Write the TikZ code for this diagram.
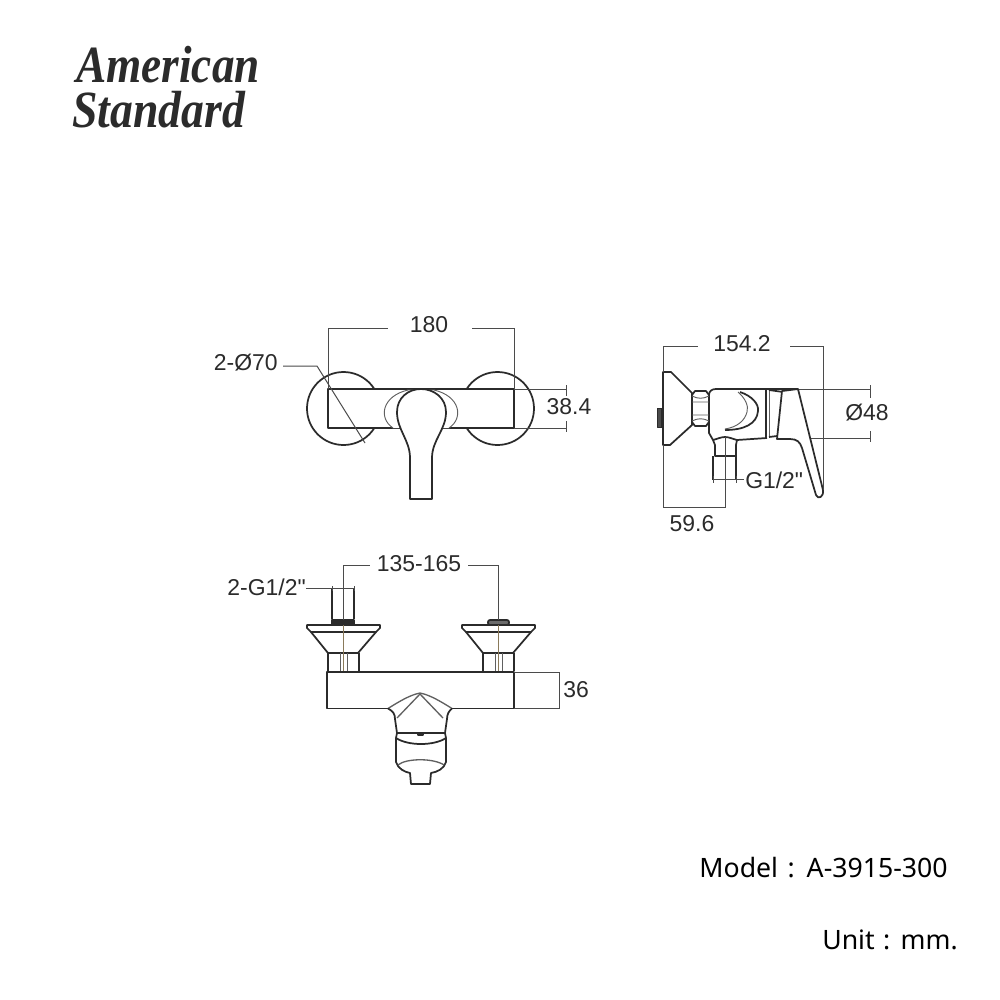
\documentclass[tikz,border=0pt]{standalone}
\usepackage{fontspec}
\usepackage{graphicx}
\setmainfont{Liberation Sans}
\newfontfamily\dimfont{Liberation Sans}
\newfontfamily\logofont{Liberation Serif}
\newfontfamily\notefont{Noto Sans}
\definecolor{ink}{HTML}{2B2B2B}
\definecolor{brownish}{HTML}{8A7A5A}
\tikzset{
  obj/.style={draw=ink,line width=1.3pt,line join=round},
  thin part/.style={draw=ink!75,line width=.7pt},
  dimline/.style={draw=ink!85,line width=.75pt},
  dimtext/.style={font=\dimfont\fontsize{17.2}{18}\selectfont,text=ink,inner sep=0pt},
  logotext/.style={font=\logofont\bfseries\itshape\fontsize{35}{38}\selectfont,text=ink,inner sep=0pt,anchor=base west},
  notetext/.style={font=\notefont\fontsize{20}{22}\selectfont,text=black,inner sep=0pt,anchor=base east},
}
\begin{document}
\begin{tikzpicture}[x=.75pt,y=-.75pt]
\useasboundingbox[fill=white] (0,0) rectangle (1000,1000);
% logo
\node[logotext] (logoA) at (76,82) {\scalebox{.97}[1.12]{American}};
\node[logotext] (logoB) at (72,127) {\scalebox{.98}[1.12]{Standard}};
% ---------- front view ----------
\draw[obj] (343.5,408.5) circle[radius=36.5];
\draw[obj] (497.5,408.5) circle[radius=36.5];
\fill[white] (328,389) rectangle (514,428);
\draw[obj] (328,389) rectangle (514,428);
\draw[thin part,fill=white] (393,428) .. controls (378,418) and (382,396) .. (408,390) -- (434,390) .. controls (460,396) and (464,418) .. (449,428);
\draw[obj,fill=white] (410,499) -- (432,499) -- (432,458)
  .. controls (432,440) and (446,430) .. (446,412)
  .. controls (446,398) and (434,389) .. (421,389)
  .. controls (408,389) and (397,398) .. (397,412)
  .. controls (397,430) and (410,440) .. (410,458) -- cycle;
\draw[dimline] (328,389) -- (328,328) -- (388,328);
\draw[dimline] (472,328) -- (514,328) -- (514,389);
\node[dimtext] (d180) at (429,325) {180};
\node[dimtext,anchor=east] (dphi) at (278,363) {2-Ø70};
\draw[dimline] (283,366) -- (317,366) -- (365,443);
\draw[dimline] (514,389) -- (567,389) (514,428) -- (567,428);
\draw[dimline] (566,385) -- (566,396) (566,421) -- (566,432);
\node[dimtext] (d384) at (569,407) {38.4};
% ---------- side view ----------
\draw[obj] (663,372) -- (671,372) -- (692,393) -- (692,425) -- (670,445) -- (663,445) -- cycle;
\draw[obj,fill=ink!85] (657.5,408.5) rectangle (662,427.5);
\draw[obj] (695,391) -- (706,391) -- (709,395) -- (709,422) -- (706,426) -- (695,426) -- (692,422) -- (692,395) -- cycle;
\draw[thin part] (692,396) .. controls (698,399) and (703,399) .. (709,396) (692,402) -- (709,402) (692,415) -- (709,415) (692,421) .. controls (698,418) and (703,418) .. (709,421);
\draw[obj] (709,395) .. controls (709,391) and (712,389) .. (716,389) -- (798,389);
\draw[obj] (709,422) -- (709,433) -- (713,440);
\draw[obj] (737,440) -- (767,438);
\draw[dimline] (798,389) -- (870,389) (790,438) -- (870,438);
\draw[obj] (740,392) .. controls (752,396) and (759,404) .. (758,411) .. controls (757,424) and (744,430) .. (725,430);
\draw[thin part] (738,392) .. controls (745,398) and (749,406) .. (747,412) .. controls (745,420) and (738,427) .. (725,429);
\draw[obj] (766,389) -- (766,438);
\draw[thin part] (769,389) -- (769,438);
\draw[obj] (769,390) -- (783,392) (769,437) -- (777,436);
\draw[obj,fill=white] (782,391) -- (798,389) -- (823,490)
  .. controls (824,497) and (818,500) .. (816,495)
  -- (802,448) .. controls (800,442) and (797,439) .. (790,439) -- (777,439) -- cycle;
\draw[obj] (713,440) .. controls (717,439) and (721,437) .. (725,437) .. controls (729,437) and (733,439) .. (737,440) -- (736,445) -- (736,456) -- (715,456) -- (715,445) -- cycle;
\draw[obj] (713,456) -- (713,480) (736,456) -- (736,480);
\draw[dimline] (663,372) -- (663,346) -- (698,346);
\draw[dimline] (790,346) -- (823,346) -- (823,490);
\node[dimtext] (d154) at (742,344) {154.2};
\draw[dimline] (870,385) -- (870,398) (870,431) -- (870,442);
\node[dimtext] (d48) at (867,413) {Ø48};
\draw[dimline] (725,437) -- (725,507) -- (663,507) -- (663,445);
\node[dimtext] (d596) at (692,524) {59.6};
\draw[dimline] (713,476) -- (713,483) (713,479) -- (744,479);
\draw[dimline] (736,476) -- (736,483);
\node[dimtext,anchor=west] (dg) at (745,480) {G1/2"};
% ---------- bottom view ----------
\draw[obj] (332,588) -- (332,619) (354,588) -- (354,619);
\draw[obj,fill=ink] (332,620) rectangle (354,625);
\draw[obj,fill=ink!70,rounded corners=1.5pt] (488,620) rectangle (509,625);
\foreach \c in {343,498}{
  \draw[obj] ({\c-36},625) -- ({\c+37},625) -- ({\c+37},628) -- ({\c+33},632) -- ({\c-32},632) -- ({\c-36},628) -- cycle;
  \draw[obj] ({\c-32},632) -- ({\c-15},653) -- ({\c+15},653) -- ({\c+33},632);
  \draw[obj] ({\c-15},653) -- ({\c-15},671) ({\c+16},653) -- ({\c+16},671);
  \draw[thin part] ({\c-3},653) -- ({\c-3},671) ({\c+4},653) -- ({\c+4},671);
  \draw[line width=.7pt,draw=brownish] (\c,625) -- (\c,672);
}
\draw[obj] (388,708.5) -- (327,708.5) -- (327,672) -- (514,672) -- (514,708.5) -- (452,708.5);
\draw[thin part,line width=1pt] (388,708.5) .. controls (400,701) and (410,695) .. (420,693) .. controls (430,695) and (440,701) .. (452,708.5);
\draw[obj] (388,708.5) .. controls (393,711) and (395,714) .. (395,719) -- (397,733) -- (445,733) -- (447,719) .. controls (447,714) and (449,711) .. (452,708.5);
\draw[thin part,line width=1pt] (420,694) -- (397,718) (420,694) -- (443,718);
\draw[obj,fill=ink] (418,734) rectangle (423,735);
\draw[obj] (397,733) -- (396,738) -- (396,762) .. controls (398,769) and (405,772) .. (410,773) -- (411,784) -- (430,784) -- (431,773) .. controls (437,772) and (444,769) .. (446,762) -- (446,738) -- (445,733);
\draw[obj] (396,738) .. controls (408,746) and (434,746) .. (446,738);
\draw[thin part,line width=1pt] (398,765) .. controls (406,758) and (434,758) .. (444,765);
\draw[dimline] (343,620) -- (343,565) -- (370,565);
\draw[dimline] (468,565) -- (498,565) -- (498,620);
\node[dimtext] (d135) at (419,564) {135-165};
\node[dimtext,anchor=east] (d2g) at (306,587) {2-G1/2"};
\draw[dimline] (306,588) -- (354,588) (332,586) -- (332,591) (354,586) -- (354,591);
\draw[dimline] (514,672) -- (559,672) -- (559,708.5) -- (514,708.5);
\node[dimtext] (d36) at (576,690) {36};
% notes
\node[notetext] (model) at (948,877) {Model\hspace{2pt} : \hspace{2pt}A-3915-300};
\node[notetext] (unit) at (958,949) {Unit\hspace{1pt} : \hspace{1pt}mm.};
\end{tikzpicture}
\end{document}
